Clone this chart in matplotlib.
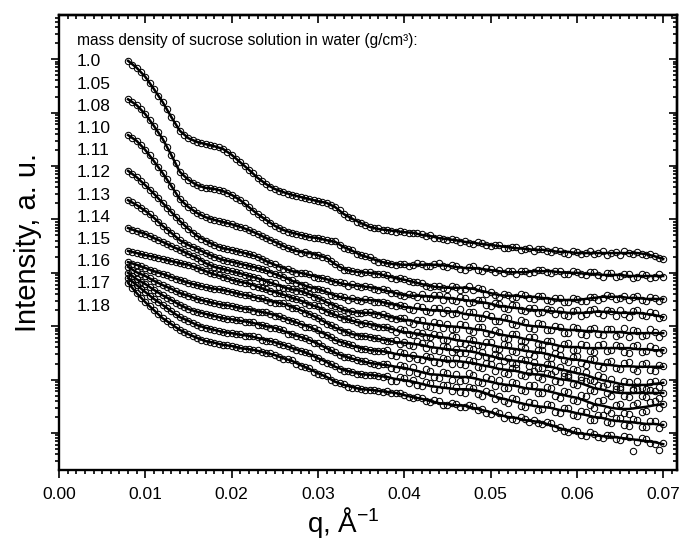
import numpy as np
import matplotlib
matplotlib.use("Agg")
import matplotlib.pyplot as plt
from matplotlib.ticker import LogLocator, NullFormatter, MultipleLocator, FormatStrFormatter

plt.rcParams['font.family'] = ['Liberation Sans', 'DejaVu Sans']
plt.rcParams['mathtext.fontset'] = 'custom'
plt.rcParams['mathtext.rm'] = 'Liberation Sans'
plt.rcParams['mathtext.it'] = 'Liberation Sans:italic'

# ---------------- data ----------------
densities = ["1.0", "1.05", "1.08", "1.10", "1.11", "1.12",
             "1.13", "1.14", "1.15", "1.16", "1.17", "1.18"]
header = "mass density of sucrose solution in water (g/cm\u00b3):"

# q (1/Angstrom) of the fitted curves
q_fit = [0.008, 0.009, 0.010, 0.011, 0.012, 0.013, 0.014, 0.015, 0.016, 0.017,
         0.018, 0.019, 0.020, 0.021, 0.022, 0.023, 0.024, 0.025, 0.026, 0.027,
         0.028, 0.029, 0.030, 0.031, 0.032, 0.033, 0.034, 0.035, 0.036, 0.037,
         0.038, 0.039, 0.040, 0.041, 0.042, 0.043, 0.044, 0.045, 0.046, 0.047,
         0.048, 0.049, 0.050, 0.051, 0.052, 0.053, 0.054, 0.055, 0.056, 0.057,
         0.058, 0.059, 0.060, 0.061, 0.062, 0.063, 0.064, 0.065, 0.066, 0.067,
         0.068, 0.069, 0.070]

# q (1/Angstrom) of the measured points
q_data = [0.0080, 0.0085, 0.0090, 0.0095, 0.0100, 0.0105, 0.0110, 0.0115, 0.0120, 0.0125,
          0.0130, 0.0135, 0.0140, 0.0145, 0.0150, 0.0155, 0.0160, 0.0165, 0.0170, 0.0175,
          0.0180, 0.0185, 0.0190, 0.0195, 0.0200, 0.0205, 0.0210, 0.0215, 0.0220, 0.0225,
          0.0230, 0.0235, 0.0240, 0.0245, 0.0250, 0.0255, 0.0260, 0.0265, 0.0270, 0.0275,
          0.0280, 0.0285, 0.0290, 0.0295, 0.0300, 0.0305, 0.0310, 0.0315, 0.0320, 0.0325,
          0.0330, 0.0335, 0.0340, 0.0345, 0.0350, 0.0355, 0.0360, 0.0365, 0.0370, 0.0375,
          0.0380, 0.0385, 0.0390, 0.0395, 0.0400, 0.0405, 0.0410, 0.0415, 0.0420, 0.0425,
          0.0430, 0.0435, 0.0440, 0.0445, 0.0450, 0.0455, 0.0460, 0.0465, 0.0470, 0.0475,
          0.0480, 0.0485, 0.0490, 0.0495, 0.0500, 0.0505, 0.0510, 0.0515, 0.0520, 0.0525,
          0.0530, 0.0535, 0.0540, 0.0545, 0.0550, 0.0555, 0.0560, 0.0565, 0.0570, 0.0575,
          0.0580, 0.0585, 0.0590, 0.0595, 0.0600, 0.0605, 0.0610, 0.0615, 0.0620, 0.0625,
          0.0630, 0.0635, 0.0640, 0.0645, 0.0650, 0.0655, 0.0660, 0.0665, 0.0670, 0.0675,
          0.0680, 0.0685, 0.0690, 0.0695, 0.0700]

# log10 of intensity (a.u., curves shifted) -- fitted curves
lg_fit_100 = [6.97, 6.84, 6.67, 6.44, 6.20, 5.92, 5.66, 5.52, 5.45, 5.41, 5.37, 5.32, 5.21, 5.07, 4.93, 4.78,
              4.66, 4.57, 4.51, 4.46, 4.42, 4.38, 4.34, 4.31, 4.23, 4.10, 4.01, 3.93, 3.86, 3.82, 3.80, 3.78,
              3.76, 3.75, 3.71, 3.69, 3.65, 3.63, 3.61, 3.58, 3.56, 3.54, 3.52, 3.50, 3.48, 3.46, 3.45, 3.43,
              3.43, 3.41, 3.39, 3.39, 3.37, 3.37, 3.37, 3.37, 3.37, 3.37, 3.37, 3.37, 3.35, 3.31, 3.26]
lg_fit_105 = [6.25, 6.14, 5.97, 5.75, 5.51, 5.21, 4.89, 4.74, 4.64, 4.59, 4.57, 4.53, 4.46, 4.36, 4.23, 4.10,
              3.99, 3.88, 3.80, 3.75, 3.71, 3.67, 3.65, 3.61, 3.58, 3.48, 3.41, 3.33, 3.28, 3.22, 3.18, 3.16,
              3.15, 3.15, 3.15, 3.15, 3.15, 3.13, 3.11, 3.09, 3.09, 3.07, 3.05, 3.03, 3.01, 3.01, 3.01, 3.03,
              3.03, 3.03, 3.01, 3.00, 3.00, 2.98, 2.98, 2.96, 2.96, 2.96, 2.94, 2.94, 2.94, 2.94, 2.94]
lg_fit_108 = [5.58, 5.47, 5.30, 5.09, 4.87, 4.63, 4.38, 4.23, 4.12, 4.04, 3.99, 3.95, 3.91, 3.86, 3.80, 3.73,
              3.65, 3.58, 3.50, 3.43, 3.39, 3.37, 3.33, 3.28, 3.16, 3.07, 3.03, 3.01, 3.00, 2.98, 2.94, 2.90,
              2.87, 2.83, 2.79, 2.75, 2.73, 2.72, 2.72, 2.72, 2.70, 2.66, 2.62, 2.58, 2.57, 2.57, 2.55, 2.55,
              2.53, 2.51, 2.49, 2.49, 2.49, 2.51, 2.53, 2.55, 2.55, 2.55, 2.53, 2.53, 2.51, 2.51, 2.51]
lg_fit_110 = [4.91, 4.79, 4.64, 4.48, 4.31, 4.14, 3.97, 3.82, 3.69, 3.60, 3.52, 3.46, 3.43, 3.39, 3.35, 3.30,
              3.22, 3.15, 3.09, 3.03, 3.00, 2.96, 2.92, 2.88, 2.83, 2.79, 2.77, 2.75, 2.73, 2.70, 2.66, 2.62,
              2.58, 2.57, 2.57, 2.55, 2.55, 2.53, 2.51, 2.49, 2.47, 2.45, 2.42, 2.38, 2.36, 2.34, 2.32, 2.30,
              2.30, 2.28, 2.27, 2.25, 2.25, 2.25, 2.27, 2.27, 2.27, 2.25, 2.25, 2.25, 2.23, 2.21, 2.17]
lg_fit_111 = [4.36, 4.27, 4.16, 4.03, 3.88, 3.75, 3.61, 3.52, 3.45, 3.37, 3.30, 3.24, 3.21, 3.17, 3.13, 3.09,
              3.04, 2.98, 2.92, 2.85, 2.79, 2.73, 2.70, 2.64, 2.57, 2.53, 2.51, 2.49, 2.49, 2.47, 2.43, 2.40,
              2.36, 2.34, 2.32, 2.30, 2.30, 2.28, 2.27, 2.23, 2.21, 2.19, 2.15, 2.13, 2.10, 2.06, 2.02, 2.00,
              1.99, 1.97, 1.95, 1.93, 1.93, 1.91, 1.91, 1.89, 1.89, 1.89, 1.87, 1.87, 1.87, 1.87, 1.87]
lg_fit_112 = [3.84, 3.78, 3.73, 3.65, 3.58, 3.50, 3.43, 3.35, 3.28, 3.18, 3.11, 3.07, 3.03, 2.99, 2.94, 2.90,
              2.84, 2.79, 2.73, 2.69, 2.66, 2.60, 2.53, 2.45, 2.38, 2.30, 2.27, 2.25, 2.25, 2.23, 2.19, 2.15,
              2.12, 2.10, 2.06, 2.04, 2.02, 2.00, 1.99, 1.97, 1.95, 1.93, 1.89, 1.85, 1.82, 1.80, 1.76, 1.74,
              1.70, 1.67, 1.63, 1.61, 1.61, 1.59, 1.59, 1.59, 1.59, 1.59, 1.59, 1.57, 1.57, 1.55, 1.55]
lg_fit_113 = [3.41, 3.37, 3.33, 3.30, 3.26, 3.22, 3.18, 3.15, 3.09, 3.03, 2.97, 2.93, 2.87, 2.83, 2.80, 2.74,
              2.68, 2.64, 2.59, 2.53, 2.48, 2.41, 2.36, 2.28, 2.21, 2.15, 2.10, 2.06, 2.04, 2.00, 1.97, 1.93,
              1.89, 1.87, 1.85, 1.82, 1.80, 1.78, 1.74, 1.72, 1.70, 1.67, 1.65, 1.61, 1.59, 1.57, 1.54, 1.52,
              1.50, 1.46, 1.42, 1.39, 1.37, 1.35, 1.31, 1.29, 1.27, 1.25, 1.25, 1.24, 1.24, 1.24, 1.24]
lg_fit_114 = [3.20, 3.15, 3.09, 3.03, 2.98, 2.92, 2.87, 2.81, 2.77, 2.73, 2.70, 2.68, 2.64, 2.60, 2.57, 2.53,
              2.49, 2.45, 2.42, 2.36, 2.30, 2.23, 2.15, 2.06, 1.97, 1.91, 1.85, 1.82, 1.80, 1.76, 1.74, 1.70,
              1.69, 1.67, 1.65, 1.61, 1.59, 1.57, 1.55, 1.54, 1.52, 1.48, 1.44, 1.40, 1.37, 1.35, 1.33, 1.29,
              1.27, 1.24, 1.20, 1.16, 1.12, 1.09, 1.03, 0.99, 0.96, 0.92, 0.90, 0.90, 0.90, 0.92, 0.94]
lg_fit_115 = [3.11, 3.01, 2.94, 2.85, 2.77, 2.70, 2.62, 2.57, 2.51, 2.47, 2.43, 2.40, 2.38, 2.34, 2.32, 2.28,
              2.25, 2.21, 2.15, 2.10, 2.04, 1.99, 1.91, 1.84, 1.74, 1.69, 1.63, 1.59, 1.55, 1.54, 1.52, 1.48,
              1.46, 1.44, 1.42, 1.39, 1.37, 1.35, 1.35, 1.33, 1.31, 1.27, 1.24, 1.20, 1.18, 1.16, 1.12, 1.10,
              1.09, 1.05, 1.01, 0.99, 0.96, 0.90, 0.84, 0.81, 0.77, 0.75, 0.75, 0.75, 0.75, 0.75, 0.75]
lg_fit_116 = [3.00, 2.88, 2.79, 2.68, 2.58, 2.49, 2.40, 2.32, 2.27, 2.23, 2.19, 2.15, 2.13, 2.10, 2.08, 2.04,
              2.00, 1.97, 1.91, 1.85, 1.80, 1.74, 1.67, 1.59, 1.50, 1.44, 1.39, 1.35, 1.31, 1.29, 1.27, 1.24,
              1.22, 1.18, 1.14, 1.10, 1.09, 1.07, 1.05, 1.05, 1.03, 0.99, 0.96, 0.92, 0.90, 0.88, 0.84, 0.82,
              0.81, 0.77, 0.73, 0.69, 0.66, 0.60, 0.54, 0.51, 0.47, 0.45, 0.45, 0.47, 0.49, 0.52, 0.54]
lg_fit_117 = [2.90, 2.77, 2.64, 2.51, 2.40, 2.28, 2.17, 2.10, 2.02, 1.97, 1.93, 1.89, 1.87, 1.84, 1.82, 1.78,
              1.74, 1.70, 1.65, 1.59, 1.54, 1.48, 1.40, 1.33, 1.24, 1.18, 1.14, 1.10, 1.09, 1.07, 1.05, 1.01,
              0.99, 0.96, 0.92, 0.88, 0.86, 0.84, 0.82, 0.82, 0.81, 0.77, 0.71, 0.66, 0.62, 0.58, 0.54, 0.51,
              0.49, 0.47, 0.43, 0.41, 0.37, 0.34, 0.30, 0.28, 0.24, 0.22, 0.21, 0.19, 0.17, 0.17, 0.15]
lg_fit_118 = [2.81, 2.62, 2.45, 2.30, 2.15, 2.04, 1.93, 1.85, 1.78, 1.72, 1.69, 1.65, 1.63, 1.59, 1.57, 1.54,
              1.50, 1.46, 1.40, 1.35, 1.27, 1.20, 1.12, 1.05, 0.96, 0.90, 0.86, 0.82, 0.81, 0.79, 0.77, 0.75,
              0.71, 0.67, 0.64, 0.60, 0.56, 0.54, 0.52, 0.51, 0.47, 0.43, 0.39, 0.34, 0.30, 0.28, 0.24, 0.22,
              0.19, 0.15, 0.09, 0.04, 0.00, -0.02, -0.04, -0.06, -0.07, -0.09, -0.11, -0.13, -0.15, -0.17, -0.21]

# log10 of intensity -- measured points (open circles)
lg_dat_100 = [6.97, 6.90, 6.84, 6.76, 6.67, 6.56, 6.44, 6.32, 6.20, 6.06, 5.92, 5.79, 5.66, 5.59, 5.52, 5.48,
              5.45, 5.43, 5.41, 5.39, 5.37, 5.35, 5.32, 5.27, 5.21, 5.14, 5.07, 5.00, 4.93, 4.86, 4.78, 4.72,
              4.66, 4.61, 4.57, 4.54, 4.51, 4.48, 4.46, 4.44, 4.42, 4.40, 4.38, 4.36, 4.34, 4.32, 4.31, 4.27,
              4.23, 4.17, 4.10, 4.05, 4.02, 3.96, 3.93, 3.90, 3.85, 3.84, 3.83, 3.80, 3.81, 3.78, 3.77, 3.78,
              3.77, 3.74, 3.74, 3.74, 3.72, 3.69, 3.70, 3.66, 3.66, 3.63, 3.61, 3.63, 3.62, 3.58, 3.59, 3.56,
              3.54, 3.57, 3.55, 3.52, 3.50, 3.53, 3.52, 3.47, 3.46, 3.49, 3.48, 3.43, 3.44, 3.46, 3.41, 3.45,
              3.45, 3.40, 3.39, 3.43, 3.41, 3.37, 3.36, 3.40, 3.39, 3.35, 3.38, 3.40, 3.35, 3.38, 3.40, 3.34,
              3.37, 3.39, 3.34, 3.40, 3.38, 3.35, 3.39, 3.36, 3.33, 3.35, 3.32, 3.28, 3.26]
lg_dat_105 = [6.25, 6.20, 6.14, 6.06, 5.97, 5.86, 5.75, 5.63, 5.51, 5.36, 5.21, 5.05, 4.89, 4.81, 4.74, 4.69,
              4.64, 4.61, 4.59, 4.58, 4.57, 4.55, 4.53, 4.50, 4.46, 4.41, 4.36, 4.30, 4.23, 4.16, 4.10, 4.05,
              3.99, 3.93, 3.88, 3.84, 3.80, 3.77, 3.75, 3.73, 3.71, 3.69, 3.67, 3.66, 3.65, 3.63, 3.61, 3.60,
              3.59, 3.52, 3.47, 3.45, 3.42, 3.36, 3.33, 3.31, 3.29, 3.24, 3.21, 3.21, 3.19, 3.16, 3.15, 3.17,
              3.17, 3.13, 3.14, 3.18, 3.16, 3.12, 3.13, 3.17, 3.18, 3.12, 3.11, 3.14, 3.13, 3.08, 3.06, 3.11,
              3.12, 3.06, 3.04, 3.09, 3.08, 3.02, 3.05, 2.99, 3.03, 3.04, 2.98, 3.03, 3.04, 3.00, 3.01, 3.06,
              3.06, 3.01, 3.00, 3.04, 3.03, 2.98, 2.97, 3.03, 3.02, 2.97, 2.96, 3.01, 3.01, 2.95, 2.93, 2.99,
              2.99, 2.93, 2.94, 2.98, 2.97, 2.91, 2.92, 2.97, 2.96, 2.91, 2.92, 2.97, 2.93]
lg_dat_108 = [5.58, 5.53, 5.47, 5.39, 5.30, 5.20, 5.09, 4.98, 4.87, 4.75, 4.63, 4.50, 4.38, 4.30, 4.23, 4.17,
              4.12, 4.08, 4.04, 4.01, 3.99, 3.97, 3.95, 3.93, 3.91, 3.88, 3.86, 3.83, 3.80, 3.77, 3.73, 3.69,
              3.65, 3.61, 3.58, 3.54, 3.50, 3.47, 3.44, 3.40, 3.38, 3.39, 3.36, 3.34, 3.34, 3.30, 3.27, 3.23,
              3.17, 3.11, 3.06, 3.06, 3.04, 3.01, 3.00, 3.02, 3.01, 2.98, 2.97, 2.97, 2.95, 2.91, 2.89, 2.90,
              2.88, 2.84, 2.82, 2.82, 2.80, 2.76, 2.74, 2.75, 2.75, 2.71, 2.69, 2.75, 2.74, 2.68, 2.70, 2.75,
              2.67, 2.71, 2.69, 2.61, 2.64, 2.58, 2.55, 2.61, 2.59, 2.53, 2.54, 2.60, 2.58, 2.52, 2.51, 2.57,
              2.56, 2.49, 2.48, 2.53, 2.52, 2.45, 2.46, 2.52, 2.51, 2.47, 2.48, 2.54, 2.55, 2.50, 2.52, 2.58,
              2.57, 2.51, 2.53, 2.57, 2.49, 2.55, 2.56, 2.50, 2.48, 2.54, 2.53, 2.48, 2.51]
lg_dat_110 = [4.91, 4.85, 4.79, 4.72, 4.64, 4.56, 4.48, 4.40, 4.31, 4.22, 4.14, 4.05, 3.97, 3.90, 3.82, 3.75,
              3.69, 3.64, 3.60, 3.56, 3.52, 3.49, 3.46, 3.44, 3.43, 3.41, 3.39, 3.37, 3.35, 3.33, 3.30, 3.26,
              3.22, 3.18, 3.16, 3.11, 3.08, 3.07, 3.04, 3.00, 2.99, 2.99, 2.97, 2.93, 2.91, 2.91, 2.89, 2.84,
              2.82, 2.83, 2.80, 2.76, 2.79, 2.75, 2.73, 2.76, 2.74, 2.70, 2.68, 2.69, 2.67, 2.62, 2.63, 2.58,
              2.56, 2.60, 2.59, 2.55, 2.61, 2.53, 2.52, 2.59, 2.58, 2.50, 2.56, 2.49, 2.47, 2.55, 2.53, 2.44,
              2.45, 2.50, 2.49, 2.40, 2.38, 2.44, 2.42, 2.34, 2.33, 2.39, 2.39, 2.30, 2.28, 2.34, 2.35, 2.25,
              2.26, 2.33, 2.31, 2.22, 2.30, 2.21, 2.19, 2.28, 2.31, 2.20, 2.22, 2.31, 2.33, 2.24, 2.21, 2.30,
              2.29, 2.20, 2.31, 2.22, 2.18, 2.28, 2.30, 2.21, 2.19, 2.27, 2.24, 2.16, 2.18]
lg_dat_111 = [4.36, 4.32, 4.27, 4.22, 4.16, 4.10, 4.03, 3.96, 3.88, 3.81, 3.75, 3.68, 3.61, 3.56, 3.52, 3.48,
              3.45, 3.41, 3.37, 3.33, 3.30, 3.27, 3.24, 3.22, 3.21, 3.19, 3.17, 3.15, 3.13, 3.11, 3.09, 3.07,
              3.05, 3.00, 2.97, 2.96, 2.93, 2.87, 2.86, 2.81, 2.78, 2.77, 2.74, 2.70, 2.69, 2.68, 2.65, 2.59,
              2.56, 2.56, 2.54, 2.50, 2.52, 2.49, 2.47, 2.51, 2.50, 2.46, 2.45, 2.46, 2.44, 2.40, 2.38, 2.39,
              2.37, 2.33, 2.30, 2.38, 2.36, 2.28, 2.27, 2.35, 2.34, 2.25, 2.31, 2.22, 2.24, 2.32, 2.19, 2.27,
              2.26, 2.16, 2.15, 2.22, 2.20, 2.10, 2.09, 2.18, 2.15, 2.04, 2.03, 2.11, 2.07, 1.97, 1.95, 2.06,
              2.04, 1.93, 1.92, 2.01, 1.99, 1.88, 1.87, 1.98, 1.97, 1.86, 1.84, 1.95, 1.96, 1.85, 1.83, 1.94,
              1.95, 1.82, 1.86, 1.97, 1.80, 1.93, 1.91, 1.81, 1.84, 1.95, 1.90, 1.80, 1.88]
lg_dat_112 = [3.84, 3.81, 3.78, 3.75, 3.73, 3.69, 3.65, 3.61, 3.58, 3.54, 3.50, 3.46, 3.43, 3.39, 3.35, 3.31,
              3.28, 3.23, 3.18, 3.14, 3.11, 3.09, 3.07, 3.05, 3.03, 3.01, 2.99, 2.96, 2.94, 2.92, 2.91, 2.85,
              2.83, 2.83, 2.80, 2.74, 2.72, 2.72, 2.70, 2.66, 2.65, 2.64, 2.61, 2.55, 2.52, 2.50, 2.46, 2.40,
              2.37, 2.35, 2.31, 2.27, 2.28, 2.25, 2.24, 2.27, 2.26, 2.22, 2.21, 2.23, 2.20, 2.15, 2.14, 2.15,
              2.16, 2.07, 2.05, 2.12, 2.11, 2.01, 1.99, 2.07, 2.06, 1.96, 2.04, 1.95, 1.94, 2.04, 2.02, 1.92,
              1.90, 1.99, 1.98, 1.87, 1.85, 1.93, 1.90, 1.78, 1.76, 1.86, 1.85, 1.73, 1.72, 1.80, 1.79, 1.67,
              1.65, 1.73, 1.72, 1.61, 1.58, 1.67, 1.68, 1.55, 1.56, 1.66, 1.65, 1.53, 1.52, 1.64, 1.67, 1.54,
              1.55, 1.65, 1.62, 1.51, 1.50, 1.63, 1.64, 1.52, 1.53, 1.62, 1.60, 1.49, 1.56]
lg_dat_113 = [3.41, 3.39, 3.37, 3.35, 3.33, 3.31, 3.30, 3.28, 3.26, 3.24, 3.22, 3.20, 3.18, 3.16, 3.15, 3.12,
              3.09, 3.06, 3.03, 3.00, 2.97, 2.95, 2.93, 2.90, 2.87, 2.85, 2.83, 2.81, 2.81, 2.76, 2.73, 2.72,
              2.69, 2.65, 2.63, 2.62, 2.60, 2.55, 2.52, 2.51, 2.49, 2.43, 2.40, 2.40, 2.37, 2.31, 2.27, 2.25,
              2.22, 2.17, 2.14, 2.13, 2.11, 2.07, 2.05, 2.06, 2.05, 2.01, 1.99, 1.99, 1.98, 1.94, 1.90, 1.95,
              1.92, 1.85, 1.84, 1.90, 1.88, 1.80, 1.79, 1.86, 1.84, 1.75, 1.74, 1.81, 1.79, 1.69, 1.67, 1.76,
              1.74, 1.64, 1.62, 1.71, 1.70, 1.58, 1.57, 1.66, 1.64, 1.53, 1.52, 1.62, 1.60, 1.48, 1.45, 1.55,
              1.56, 1.44, 1.40, 1.50, 1.47, 1.36, 1.33, 1.43, 1.44, 1.31, 1.28, 1.38, 1.38, 1.25, 1.22, 1.33,
              1.34, 1.21, 1.19, 1.31, 1.33, 1.20, 1.17, 1.30, 1.32, 1.18, 1.16, 1.28, 1.26]
lg_dat_114 = [3.20, 3.17, 3.15, 3.12, 3.09, 3.06, 3.03, 3.00, 2.98, 2.95, 2.92, 2.89, 2.87, 2.84, 2.81, 2.79,
              2.77, 2.75, 2.73, 2.71, 2.70, 2.69, 2.68, 2.66, 2.64, 2.62, 2.60, 2.59, 2.58, 2.54, 2.52, 2.52,
              2.50, 2.46, 2.44, 2.44, 2.43, 2.38, 2.35, 2.34, 2.31, 2.25, 2.22, 2.20, 2.16, 2.09, 2.05, 2.03,
              1.98, 1.93, 1.90, 1.89, 1.86, 1.82, 1.81, 1.82, 1.80, 1.77, 1.77, 1.74, 1.73, 1.73, 1.75, 1.66,
              1.71, 1.64, 1.62, 1.72, 1.69, 1.60, 1.66, 1.56, 1.54, 1.63, 1.61, 1.52, 1.58, 1.49, 1.50, 1.60,
              1.57, 1.45, 1.52, 1.42, 1.40, 1.48, 1.45, 1.34, 1.41, 1.31, 1.29, 1.39, 1.37, 1.26, 1.33, 1.22,
              1.21, 1.30, 1.30, 1.17, 1.24, 1.12, 1.09, 1.19, 1.18, 1.05, 1.14, 0.99, 0.98, 1.08, 1.05, 0.92,
              1.01, 0.88, 0.86, 0.97, 0.96, 0.83, 0.97, 0.84, 0.82, 0.95, 0.98, 0.87, 0.95]
lg_dat_115 = [3.11, 3.06, 3.01, 2.98, 2.94, 2.90, 2.85, 2.81, 2.77, 2.74, 2.70, 2.66, 2.62, 2.60, 2.57, 2.54,
              2.51, 2.49, 2.47, 2.45, 2.43, 2.42, 2.40, 2.39, 2.38, 2.36, 2.34, 2.33, 2.33, 2.29, 2.27, 2.27,
              2.26, 2.22, 2.20, 2.19, 2.16, 2.11, 2.09, 2.08, 2.05, 1.99, 1.98, 1.96, 1.92, 1.86, 1.83, 1.80,
              1.75, 1.70, 1.68, 1.67, 1.64, 1.60, 1.58, 1.58, 1.56, 1.53, 1.53, 1.54, 1.55, 1.46, 1.44, 1.51,
              1.50, 1.41, 1.47, 1.38, 1.36, 1.45, 1.42, 1.33, 1.31, 1.41, 1.39, 1.30, 1.41, 1.29, 1.27, 1.36,
              1.35, 1.24, 1.22, 1.31, 1.29, 1.17, 1.25, 1.13, 1.11, 1.22, 1.21, 1.08, 1.06, 1.15, 1.16, 1.04,
              1.02, 1.12, 1.11, 0.97, 0.95, 1.06, 1.05, 0.92, 0.89, 1.00, 0.97, 0.81, 0.79, 0.89, 0.88, 0.74,
              0.70, 0.82, 0.83, 0.69, 0.67, 0.80, 0.82, 0.70, 0.68, 0.81, 0.79, 0.66, 0.74]
lg_dat_116 = [3.00, 2.94, 2.88, 2.83, 2.79, 2.73, 2.68, 2.63, 2.58, 2.53, 2.49, 2.44, 2.40, 2.36, 2.32, 2.29,
              2.27, 2.25, 2.23, 2.21, 2.19, 2.17, 2.15, 2.14, 2.13, 2.11, 2.11, 2.07, 2.08, 2.07, 2.03, 2.03,
              2.01, 1.97, 1.96, 1.95, 1.92, 1.86, 1.86, 1.81, 1.79, 1.78, 1.75, 1.69, 1.68, 1.62, 1.58, 1.56,
              1.51, 1.46, 1.43, 1.43, 1.40, 1.36, 1.34, 1.34, 1.32, 1.29, 1.28, 1.29, 1.30, 1.21, 1.20, 1.28,
              1.26, 1.15, 1.23, 1.12, 1.09, 1.19, 1.16, 1.05, 1.03, 1.14, 1.12, 1.00, 1.10, 0.98, 0.99, 1.12,
              1.08, 0.96, 0.94, 1.04, 1.02, 0.88, 0.99, 0.85, 0.84, 0.96, 0.94, 0.80, 0.78, 0.89, 0.90, 0.75,
              0.74, 0.87, 0.85, 0.70, 0.66, 0.78, 0.77, 0.61, 0.59, 0.72, 0.70, 0.52, 0.47, 0.60, 0.61, 0.43,
              0.38, 0.53, 0.55, 0.37, 0.36, 0.52, 0.57, 0.40, 0.42, 0.58, 0.60, 0.46, 0.55]
lg_dat_117 = [2.90, 2.83, 2.77, 2.70, 2.64, 2.57, 2.51, 2.45, 2.40, 2.34, 2.28, 2.22, 2.17, 2.13, 2.10, 2.06,
              2.02, 1.99, 1.97, 1.95, 1.93, 1.91, 1.89, 1.88, 1.87, 1.85, 1.85, 1.82, 1.81, 1.81, 1.79, 1.75,
              1.73, 1.73, 1.71, 1.66, 1.64, 1.63, 1.60, 1.55, 1.53, 1.52, 1.49, 1.43, 1.41, 1.35, 1.32, 1.30,
              1.25, 1.20, 1.17, 1.17, 1.15, 1.11, 1.10, 1.08, 1.08, 1.09, 1.06, 1.05, 1.07, 0.98, 0.97, 1.05,
              1.03, 0.93, 1.00, 0.89, 0.88, 0.96, 0.93, 0.82, 0.81, 0.90, 0.89, 0.78, 0.87, 0.76, 0.75, 0.86,
              0.84, 0.73, 0.70, 0.78, 0.75, 0.63, 0.70, 0.59, 0.57, 0.66, 0.64, 0.51, 0.49, 0.58, 0.56, 0.44,
              0.45, 0.55, 0.53, 0.40, 0.37, 0.47, 0.46, 0.33, 0.32, 0.41, 0.40, 0.25, 0.24, 0.34, 0.33, 0.20,
              0.18, 0.29, 0.28, 0.15, 0.14, 0.26, 0.25, 0.12, 0.11, 0.22, 0.23, 0.10, 0.16]
lg_dat_118 = [2.81, 2.71, 2.62, 2.53, 2.45, 2.37, 2.30, 2.22, 2.15, 2.09, 2.04, 1.98, 1.93, 1.89, 1.85, 1.81,
              1.78, 1.75, 1.72, 1.70, 1.69, 1.67, 1.65, 1.64, 1.63, 1.61, 1.59, 1.58, 1.57, 1.55, 1.55, 1.51,
              1.49, 1.49, 1.47, 1.42, 1.39, 1.38, 1.36, 1.30, 1.26, 1.24, 1.21, 1.15, 1.11, 1.09, 1.06, 0.99,
              0.95, 0.94, 0.91, 0.87, 0.85, 0.85, 0.83, 0.80, 0.80, 0.81, 0.78, 0.77, 0.78, 0.75, 0.74, 0.74,
              0.72, 0.68, 0.66, 0.67, 0.66, 0.60, 0.58, 0.61, 0.59, 0.53, 0.52, 0.57, 0.55, 0.49, 0.48, 0.52,
              0.50, 0.43, 0.45, 0.38, 0.36, 0.41, 0.37, 0.29, 0.33, 0.27, 0.25, 0.30, 0.27, 0.20, 0.24, 0.18,
              0.16, 0.21, 0.18, 0.09, 0.11, 0.04, 0.02, 0.06, 0.04, -0.04, -0.05, 0.01, -0.01, -0.08, -0.09, -0.03,
              -0.04, -0.12, -0.13, -0.06, -0.08, -0.33, -0.16, -0.09, -0.11, -0.19, -0.20, -0.32, -0.19]

fits = [lg_fit_100, lg_fit_105, lg_fit_108, lg_fit_110, lg_fit_111, lg_fit_112,
        lg_fit_113, lg_fit_114, lg_fit_115, lg_fit_116, lg_fit_117, lg_fit_118]
dats = [lg_dat_100, lg_dat_105, lg_dat_108, lg_dat_110, lg_dat_111, lg_dat_112,
        lg_dat_113, lg_dat_114, lg_dat_115, lg_dat_116, lg_dat_117, lg_dat_118]

x_major = [0.00, 0.01, 0.02, 0.03, 0.04, 0.05, 0.06, 0.07]

# ---------------- figure ----------------
fig = plt.figure(figsize=(6.8, 5.45), dpi=100)
ax = fig.add_axes([59/680, 1-470/545, 618/680, 455/545])

for lg_d in dats:
    n = min(len(q_data), len(lg_d))
    ax.plot(q_data[:n], 10.0 ** np.array(lg_d[:n]), linestyle='none', marker='o',
            markersize=4.6, markerfacecolor='none', markeredgecolor='black',
            markeredgewidth=0.75, zorder=2)
for lg_f in fits:
    n = min(len(q_fit), len(lg_f))
    ax.plot(q_fit[:n], 10.0 ** np.array(lg_f[:n]), color='black', linewidth=1.8, zorder=3)

ax.set_yscale('log')
ax.set_xlim(0, 0.0716)
ax.set_ylim(10 ** -0.693, 10 ** 7.828)

ax.set_xticks(x_major)
ax.xaxis.set_major_formatter(FormatStrFormatter('%.2f'))
ax.xaxis.set_minor_locator(MultipleLocator(0.001))
ax.yaxis.set_major_locator(LogLocator(base=10, numticks=50))
ax.yaxis.set_minor_locator(LogLocator(base=10, subs=np.arange(2, 10), numticks=50))
ax.yaxis.set_major_formatter(NullFormatter())
ax.yaxis.set_minor_formatter(NullFormatter())

ax.tick_params(which='both', direction='out', width=1.2, labelsize=12.5, pad=6)
ax.tick_params(which='major', length=6)
ax.tick_params(which='minor', length=3.2)
for s in ax.spines.values():
    s.set_linewidth(1.7)

top = ax.secondary_xaxis('top')
top.set_xticks(x_major)
top.xaxis.set_minor_locator(MultipleLocator(0.001))
top.xaxis.set_major_formatter(NullFormatter())
top.tick_params(which='both', direction='in', width=1.2)
top.tick_params(which='major', length=6)
top.tick_params(which='minor', length=3.2)
top.spines['top'].set_linewidth(1.7)

right = ax.secondary_yaxis('right')
right.yaxis.set_major_locator(LogLocator(base=10, numticks=50))
right.yaxis.set_minor_locator(LogLocator(base=10, subs=np.arange(2, 10), numticks=50))
right.yaxis.set_major_formatter(NullFormatter())
right.yaxis.set_minor_formatter(NullFormatter())
right.tick_params(which='both', direction='in', width=1.2)
right.tick_params(which='major', length=6)
right.tick_params(which='minor', length=3.2)
right.spines['right'].set_linewidth(1.7)

ax.set_xlabel(r"q, Å$^{\mathregular{-1}}$", fontsize=20)
ax.set_ylabel("Intensity, a. u.", fontsize=21)
ax.xaxis.set_label_coords(0.46, -0.076)
ax.yaxis.set_label_coords(-0.028, 0.5)

ax.text(0.029, 0.945, header, transform=ax.transAxes, fontsize=11.2, va='center', ha='left')
for i, d in enumerate(densities):
    ax.text(0.029, 0.897 - i * 0.0488, d, transform=ax.transAxes,
            fontsize=12.5, va='center', ha='left')

fig.savefig("out.png", dpi=100)
